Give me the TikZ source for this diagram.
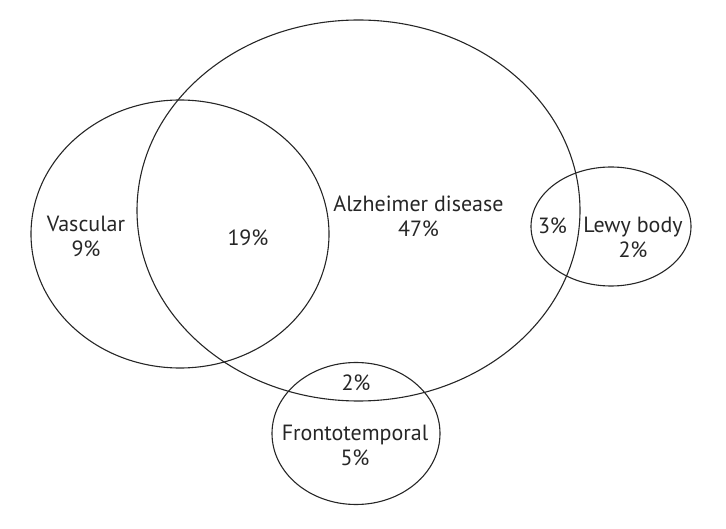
\documentclass[tikz,border=0pt]{standalone}
\usepackage{fontspec}
\setmainfont{PT Sans}
\begin{document}
\begin{tikzpicture}[x=1pt,y=-1pt,
  venn/.style={draw=black!85,line width=1.1pt},
  lbl/.style={font=\fontsize{22}{25}\selectfont,align=center,text=black!85,inner sep=0pt}]
\useasboundingbox (0,0) rectangle (726,529);
\draw[venn] (358.5,210.5) ellipse [x radius=221.5, y radius=190.5];
\draw[venn] (180,234) ellipse [x radius=149, y radius=134];
\draw[venn] (611,226.5) ellipse [x radius=80, y radius=59.5];
\draw[venn] (356,433.5) ellipse [x radius=84, y radius=71];
\node[lbl] (alz) at (418.5,216) {Alzheimer disease\\47\%};
\node[lbl] (vas) at (86,236) {Vascular\\9\%};
\node[lbl] (av) at (248,238) {19\%};
\node[lbl] (al) at (552.5,226) {3\%};
\node[lbl] (lew) at (633,237) {Lewy body\\2\%};
\node[lbl] (af) at (356,383) {2\%};
\node[lbl] (fro) at (355,445) {Frontotemporal\\5\%};
\end{tikzpicture}
\end{document}
